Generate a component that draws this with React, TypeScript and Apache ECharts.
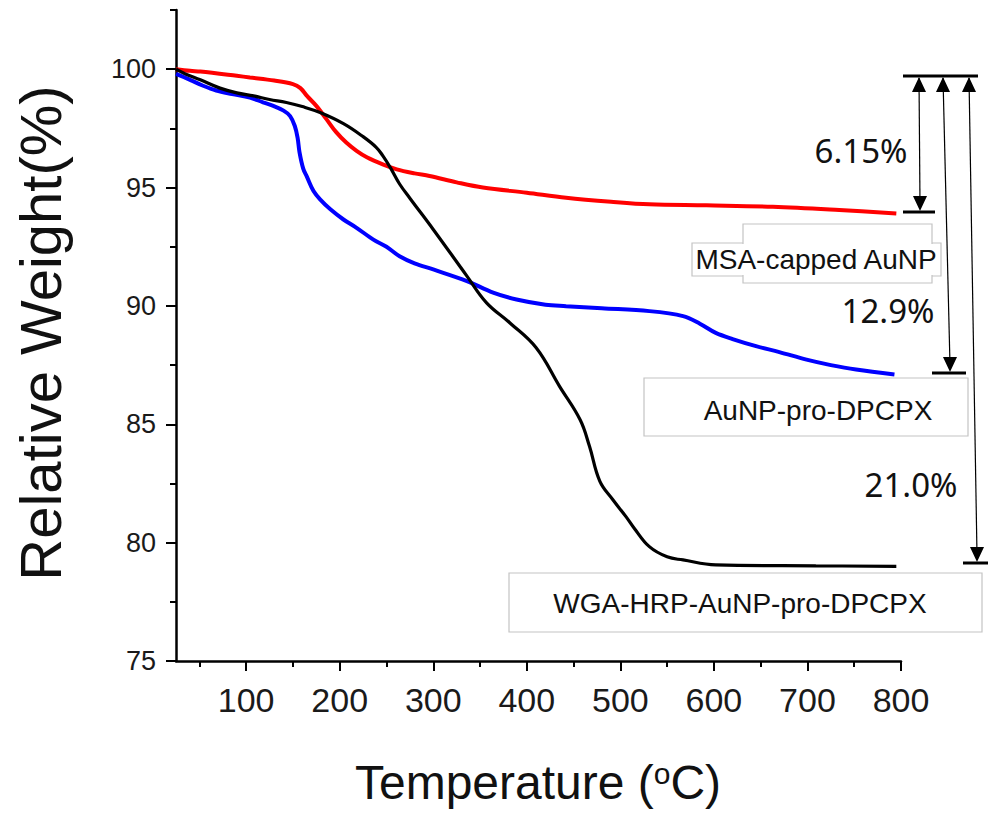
import React, { useEffect, useRef } from "react";
import * as echarts from "echarts";

// MSA-capped AuNP (red)
const redT = [25, 40, 51, 90, 104, 130, 150, 158, 165, 175, 186, 196, 207, 218, 229, 246, 261, 280, 296, 325, 353, 400, 442, 490, 531, 592, 663, 734, 795];
const redW = [100.0, 99.93, 99.9, 99.72, 99.65, 99.52, 99.37, 99.2, 98.87, 98.45, 97.88, 97.35, 96.9, 96.55, 96.28, 95.98, 95.77, 95.6, 95.49, 95.22, 95.0, 94.78, 94.57, 94.4, 94.29, 94.25, 94.19, 94.05, 93.9];

// AuNP-pro-DPCPX (blue)
const blueT = [25, 40, 54, 68, 85, 104, 118, 129, 140, 147, 152, 155, 157, 161, 165, 172, 179, 190, 204, 218, 236, 250, 264, 280, 300, 336, 364, 389, 420, 442, 480, 531, 567, 585, 602, 620, 645, 670, 699, 725, 752, 793];
const blueW = [99.8, 99.55, 99.3, 99.1, 98.95, 98.8, 98.6, 98.45, 98.25, 98.02, 97.6, 97.1, 96.5, 95.8, 95.45, 94.85, 94.5, 94.08, 93.65, 93.3, 92.8, 92.5, 92.1, 91.8, 91.54, 91.05, 90.56, 90.27, 90.05, 89.99, 89.9, 89.78, 89.57, 89.25, 88.86, 88.6, 88.3, 88.05, 87.73, 87.5, 87.31, 87.1];

// WGA-HRP-AuNP-pro-DPCPX (black)
const blackT = [25, 35, 51, 72, 90, 108, 125, 143, 160, 179, 204, 225, 239, 246, 254, 264, 275, 300, 336, 357, 382, 410, 435, 457, 467, 478, 492, 506, 515, 531, 550, 567, 602, 709, 795];
const blackW = [100.0, 99.8, 99.55, 99.2, 99.0, 98.87, 98.72, 98.59, 98.42, 98.17, 97.7, 97.15, 96.7, 96.35, 95.85, 95.15, 94.55, 93.23, 91.26, 90.13, 89.28, 88.23, 86.6, 85.19, 84.07, 82.6, 81.81, 81.1, 80.6, 79.83, 79.4, 79.27, 79.06, 79.02, 79.0];

const xMajorTicks = [100, 200, 300, 400, 500, 600, 700, 800];
const xMinorTicks = [50, 150, 250, 350, 450, 550, 650, 750];
const yMajorTicks = [75, 80, 85, 90, 95, 100];
const yMinorTicks = [77.5, 82.5, 87.5, 92.5, 97.5, 102.5];

const seriesNames = ["MSA-capped AuNP", "AuNP-pro-DPCPX", "WGA-HRP-AuNP-pro-DPCPX"];
const lossLabels = ["6.15%", "12.9%", "21.0%"];

const zip = (a: number[], b: number[]) => a.map((v, i) => [v, b[i]]);

const AXIS_FONT = "'Liberation Sans', Arial, sans-serif";

export default function App() {
  const ref = useRef<HTMLDivElement>(null);
  useEffect(() => {
    const chart = echarts.init(ref.current!, null, { renderer: "svg" });
    const xBase = {
      type: "value",
      min: 25,
      max: 800,
      position: "bottom",
      splitLine: { show: false },
    };
    const yBase = {
      type: "value",
      min: 75,
      max: 102.5,
      position: "left",
      splitLine: { show: false },
    };
    const line = (x1: number, y1: number, x2: number, y2: number, w: number) => ({
      type: "line",
      shape: { x1, y1, x2, y2 },
      style: { stroke: "#000", lineWidth: w },
      z: 10,
    });
    const tri = (pts: number[][]) => ({
      type: "polygon",
      shape: { points: pts },
      style: { fill: "#000" },
      z: 10,
    });
    const box = (x: number, y: number, w: number, h: number) => ({
      type: "rect",
      shape: { x, y, width: w, height: h },
      style: { fill: "#fff", stroke: "#c4c4c4", lineWidth: 1.2 },
      z: 10,
    });
    const fillBox = (x: number, y: number, w: number, h: number) => ({
      type: "rect",
      shape: { x: x + 1, y: y + 1, width: w - 2, height: h - 2 },
      style: { fill: "#fff" },
      z: 11,
    });
    const label = (text: string, x: number, y: number, size: number, font: string, z = 12) => ({
      type: "text",
      x,
      y,
      style: {
        text,
        fontSize: size,
        fontFamily: font,
        fill: "#111",
        textAlign: "center",
        textVerticalAlign: "middle",
      },
      z,
    });
    const option = {
      animation: false,
      backgroundColor: "#fff",
      grid: { left: 176, right: 87, top: 10, bottom: 158, containLabel: false },
      xAxis: [
        {
          ...xBase,
          axisLine: { show: true, lineStyle: { color: "#000", width: 2.5 } },
          axisTick: { show: true, customValues: xMajorTicks, length: 10, lineStyle: { color: "#000", width: 2 } },
          axisLabel: { show: true, customValues: xMajorTicks, fontSize: 34, color: "#1a1a1a", margin: 22, fontFamily: AXIS_FONT },
        },
        {
          ...xBase,
          axisLine: { show: false },
          axisTick: { show: true, customValues: xMinorTicks, length: 6, lineStyle: { color: "#000", width: 2 } },
          axisLabel: { show: false },
        },
      ],
      yAxis: [
        {
          ...yBase,
          axisLine: { show: true, lineStyle: { color: "#000", width: 2.5 } },
          axisTick: { show: true, customValues: yMajorTicks, length: 10, lineStyle: { color: "#000", width: 2 } },
          axisLabel: { show: true, customValues: yMajorTicks, fontSize: 27, color: "#1a1a1a", margin: 20, fontFamily: AXIS_FONT },
        },
        {
          ...yBase,
          axisLine: { show: false },
          axisTick: { show: true, customValues: yMinorTicks, length: 6, lineStyle: { color: "#000", width: 2 } },
          axisLabel: { show: false },
        },
      ],
      series: [
        {
          name: seriesNames[0],
          type: "line",
          data: zip(redT, redW),
          showSymbol: false,
          smooth: 0.35,
          lineStyle: { color: "#ff0000", width: 4 },
          z: 2,
        },
        {
          name: seriesNames[1],
          type: "line",
          data: zip(blueT, blueW),
          showSymbol: false,
          smooth: 0.35,
          lineStyle: { color: "#0000ff", width: 4 },
          z: 3,
        },
        {
          name: seriesNames[2],
          type: "line",
          data: zip(blackT, blackW),
          showSymbol: false,
          smooth: 0.4,
          lineStyle: { color: "#000000", width: 3.2 },
          z: 4,
        },
      ],
      graphic: [
        // axis titles
        {
          type: "text",
          x: 40,
          y: 333,
          rotation: Math.PI / 2,
          style: {
            text: "Relative Weight(%)",
            fontSize: 58,
            fontFamily: AXIS_FONT,
            fill: "#111",
            textAlign: "center",
            textVerticalAlign: "middle",
          },
        },
        {
          type: "text",
          x: 538,
          y: 782,
          style: {
            text: "Temperature ({sup|o}C)",
            fontSize: 48,
            fontFamily: AXIS_FONT,
            fill: "#111",
            textAlign: "center",
            textVerticalAlign: "middle",
            rich: {
              sup: { fontSize: 30, fontFamily: AXIS_FONT, fill: "#111", verticalAlign: "top" },
            },
          },
        },
        // annotation arrows
        line(903, 76, 978, 76, 3),
        line(919, 78, 920, 205, 1.2),
        tri([[919, 77], [912, 92], [926, 92]]),
        tri([[920, 211], [913, 196], [927, 196]]),
        line(903, 212, 935, 212, 3),
        line(943, 78, 950, 365, 1.2),
        tri([[943, 77], [936, 92], [950, 92]]),
        tri([[950, 372], [943, 357], [957, 357]]),
        line(932, 373, 966, 373, 3),
        line(969, 78, 977, 555, 1.2),
        tri([[969, 77], [962, 92], [976, 92]]),
        tri([[977, 562], [970, 547], [984, 547]]),
        line(963, 563, 988, 563, 3),
        label(lossLabels[0], 861, 150, 33, "'Noto Sans', sans-serif"),
        label(lossLabels[1], 888, 310, 33, "'Noto Sans', sans-serif"),
        label(lossLabels[2], 911, 484, 33, "'Noto Sans', sans-serif"),
        // series label boxes
        box(692, 243, 249, 33),
        box(743, 224, 189, 59),
        fillBox(692, 243, 249, 33),
        fillBox(743, 224, 189, 59),
        label(seriesNames[0], 816, 259, 28, AXIS_FONT),
        box(644, 378, 324, 58),
        label(seriesNames[1], 818, 410, 28, AXIS_FONT),
        box(509, 573, 473, 59),
        label(seriesNames[2], 740, 603, 28, AXIS_FONT),
      ],
    };
    chart.setOption(option as any);
    return () => chart.dispose();
  }, []);
  return (
    <div
      ref={ref}
      style={{ position: "fixed", left: 0, top: 0, width: 988, height: 819, background: "#fff" }}
    />
  );
}
